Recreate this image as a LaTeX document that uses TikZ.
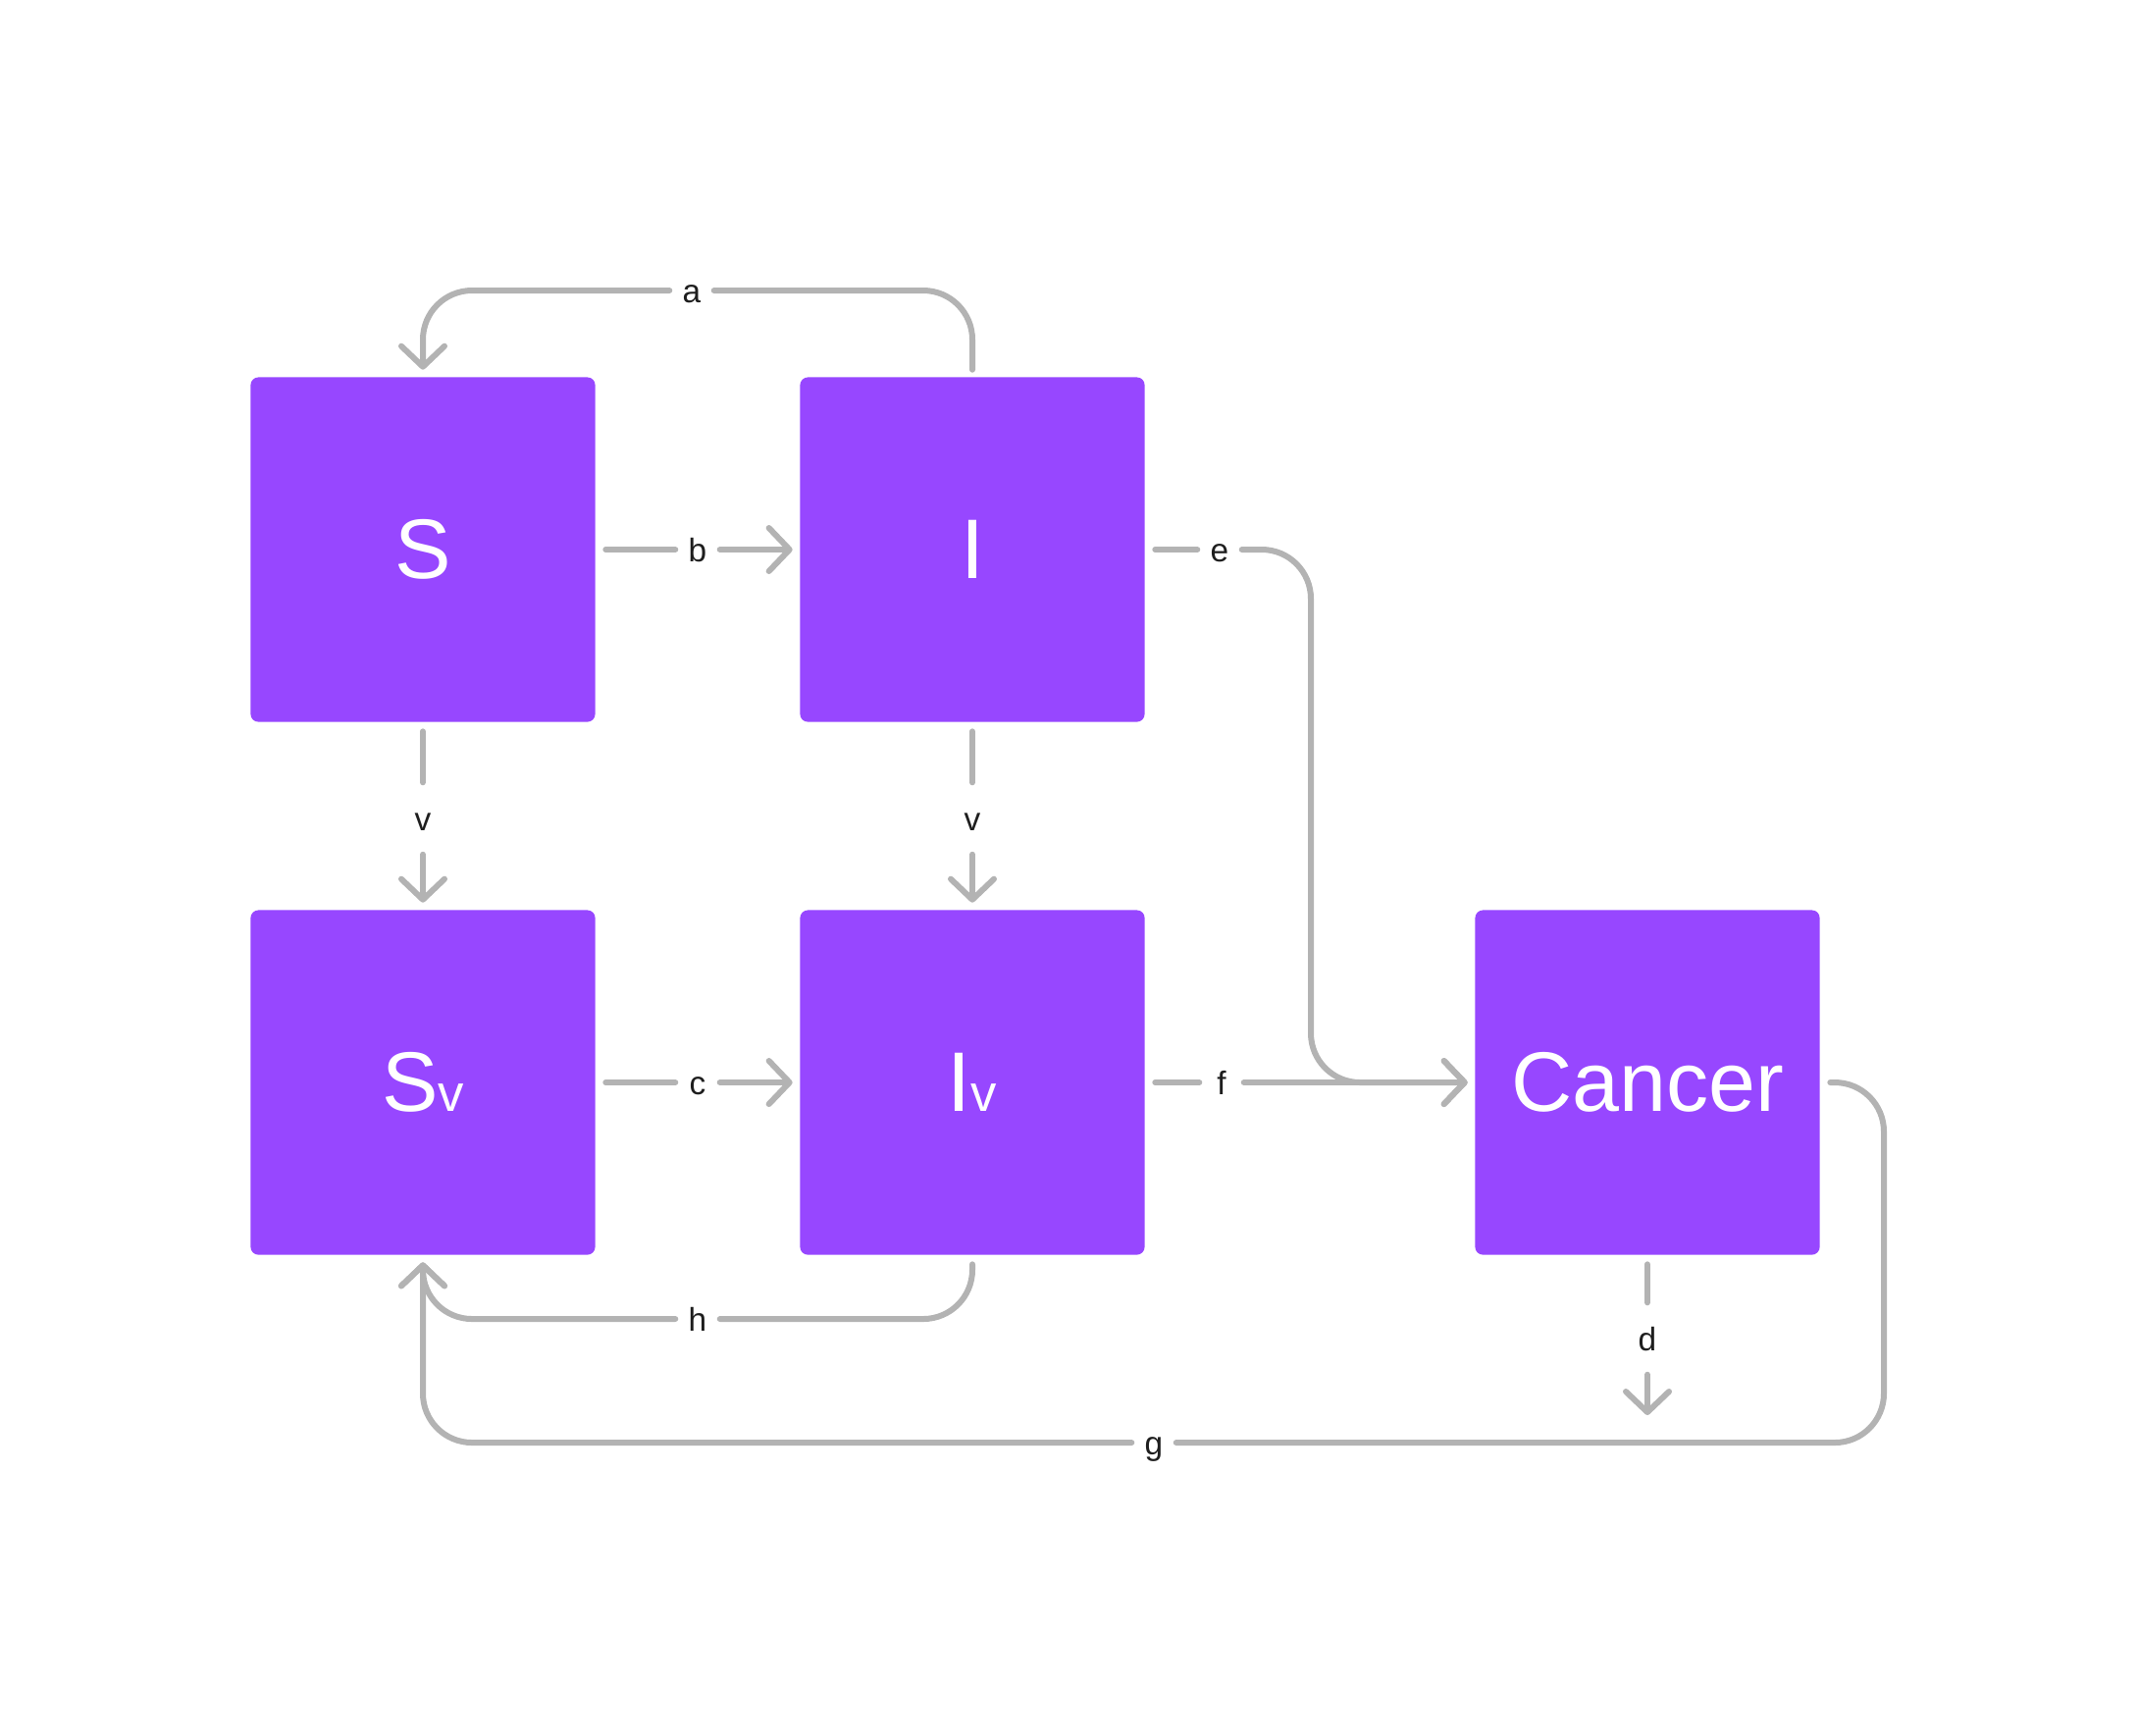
\documentclass[tikz,border=0pt]{standalone}
\usepackage{fontspec}
\setmainfont{Liberation Sans}
\usetikzlibrary{arrows.meta,calc}
\definecolor{boxpurple}{HTML}{9747FF}
\definecolor{linegray}{HTML}{B3B3B3}
\definecolor{labeltext}{HTML}{1E1E1E}
\begin{document}
\begin{tikzpicture}[x=0.01cm,y=-0.01cm,
  compart/.style={fill=boxpurple, rounded corners=0.08cm, minimum width=3.51cm, minimum height=3.51cm, inner sep=0pt, text=white, font=\fontsize{24.5pt}{28pt}\selectfont},
  conn/.style={draw=linegray, line width=0.06cm, line cap=round, line join=round},
  arr/.style={-{Straight Barb[length=0.21cm,width=0.44cm,round]}},
  rc/.style={rounded corners=0.5cm},
  lbl/.style={inner sep=0pt, text=labeltext, font=\fontsize{9.5pt}{11pt}\selectfont, text height=0.24cm, text depth=0cm},
  lblh/.style={lbl, minimum width=0.44cm},
  lblv/.style={lbl, minimum height=0.72cm}
]
\useasboundingbox (0,0) rectangle (2179,1768);
\newcommand{\subv}{{\fontsize{15pt}{17pt}\selectfont v}}
% compartments
\node[compart] (S)  at (431,560)  {S};
\node[compart] (I)  at (991,560)  {I};
\node[compart] (Sv) at (431,1103) {S\subv};
\node[compart] (Iv) at (991,1103) {I\subv};
\node[compart] (C)  at (1679,1103) {Cancer};
% labels
\node[lblh] (la) at (705,296) {a};
\node[lblh] (lb) at (711,560) {b};
\node[lblv] (lv1) at (431,834) {v};
\node[lblv] (lv2) at (991,834) {v};
\node[lblh] (lc) at (711,1103) {c};
\node[lblh] (le) at (1243,560) {e};
\node[lblh] (lf) at (1245,1103) {f};
\node[lblv] (ld) at (1679,1364) {d};
\node[lblh] (lg) at (1176,1470) {g};
\node[lblh] (lh) at (711,1344) {h};
\coordinate (ecorner) at (1336,1103);
\coordinate (gcorner) at (1920,1470);
\coordinate (dend) at (1679,1442);
% a
\draw[conn,rc] ([yshift=0.07cm]I.north) |- (la.east);
\draw[conn,rc,arr] (la.west) -| ([yshift=0.07cm]S.north);
% b
\draw[conn] ([xshift=0.1cm]S.east) -- (lb.west);
\draw[conn,arr] (lb.east) -- ([xshift=-0.07cm]I.west);
% c
\draw[conn] ([xshift=0.1cm]Sv.east) -- (lc.west);
\draw[conn,arr] (lc.east) -- ([xshift=-0.07cm]Iv.west);
% v
\draw[conn] ([yshift=-0.09cm]S.south) -- (lv1.north);
\draw[conn,arr] (lv1.south) -- ([yshift=0.07cm]Sv.north);
\draw[conn] ([yshift=-0.09cm]I.south) -- (lv2.north);
\draw[conn,arr] (lv2.south) -- ([yshift=0.07cm]Iv.north);
% e
\draw[conn] ([xshift=0.1cm]I.east) -- (le.west);
\draw[conn,rc,arr] (le.east) -| (ecorner) -- ([xshift=-0.07cm]C.west);
% f
\draw[conn] ([xshift=0.1cm]Iv.east) -- (lf.west);
\draw[conn,arr] (lf.east) -- ([xshift=-0.07cm]C.west);
% d
\draw[conn] ([yshift=-0.09cm]C.south) -- (ld.north);
\draw[conn,arr] (ld.south) -- (dend);
% g
\draw[conn,rc] ([xshift=0.1cm]C.east) -| (gcorner) -- (lg.east);
\draw[conn,rc,arr] (lg.west) -| ([yshift=-0.07cm]Sv.south);
% h
\draw[conn,rc] ([yshift=-0.09cm]Iv.south) |- (lh.east);
\draw[conn,rc,arr] (lh.west) -| ([yshift=-0.07cm]Sv.south);
\end{tikzpicture}
\end{document}
